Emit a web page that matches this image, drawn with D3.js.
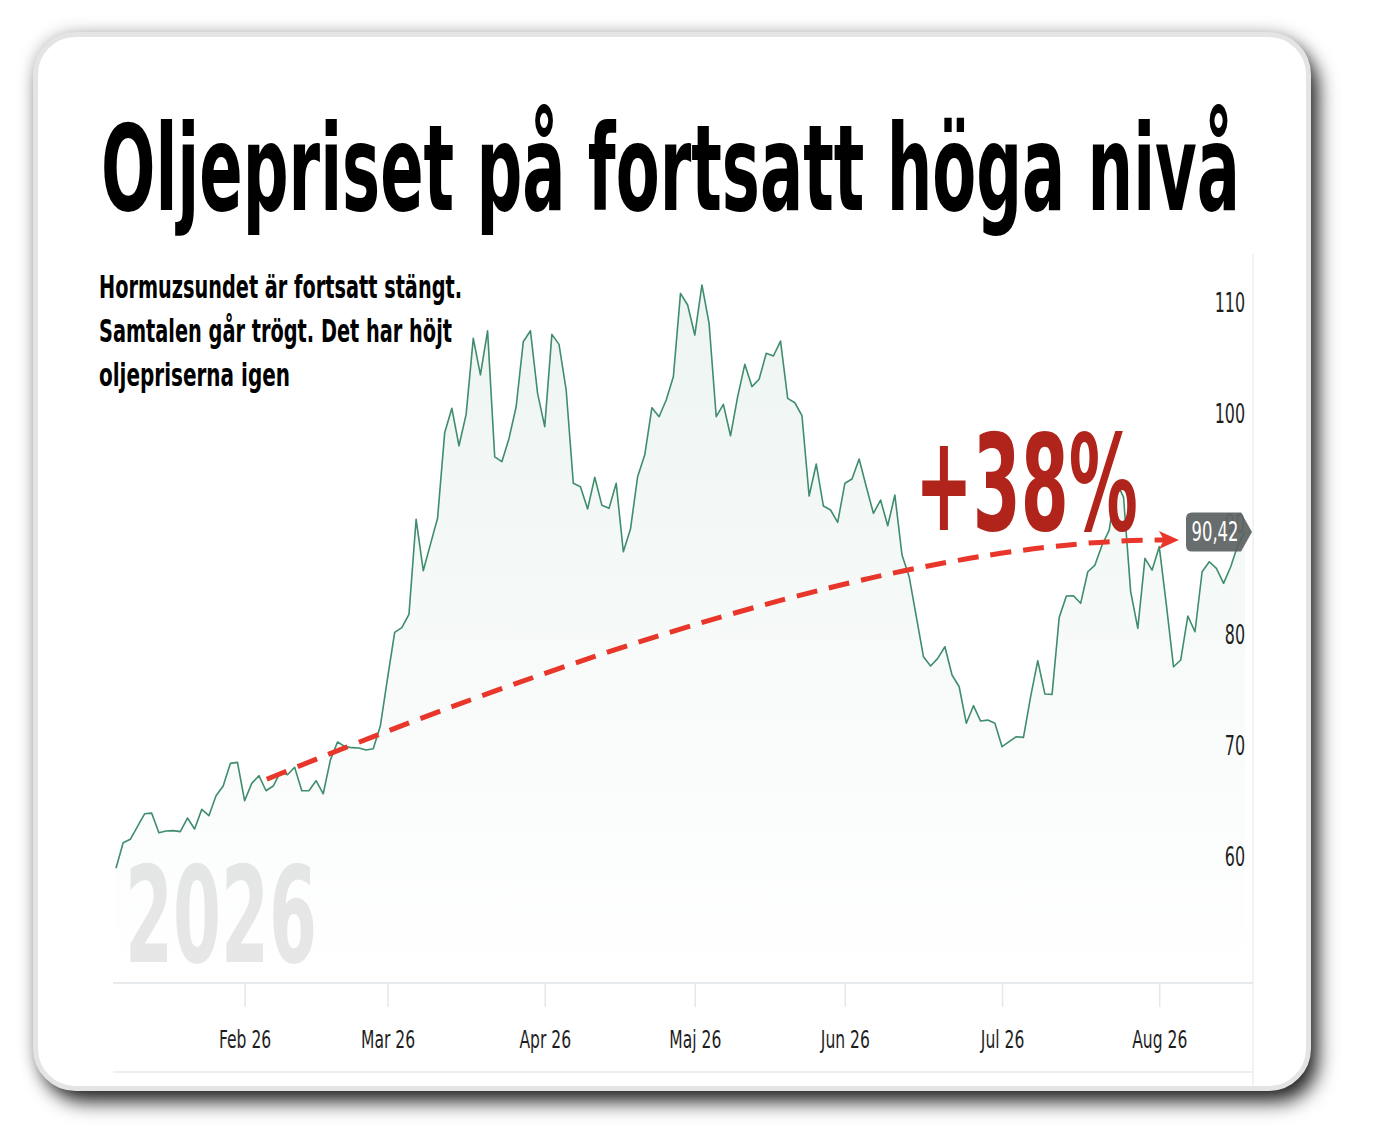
<!DOCTYPE html>
<html>
<head>
<meta charset="utf-8">
<script src="https://cdn.jsdelivr.net/npm/d3@7"></script>
<style>
  html, body { margin: 0; background: #fff; }
  svg { display: block; }
  text { font-family: "Liberation Sans Narrow", "DejaVu Sans Condensed", Roboto, sans-serif; }
</style>
</head>
<body>
<svg id="chart" width="1382" height="1142"></svg>
<script>
// daily closes, one per trading day from startDay
const prices = [
  60.06, 62.37, 62.68, 63.82, 64.98, 65.04, 63.27, 63.43, 63.46, 63.37,
  64.60, 63.61, 65.38, 64.81, 66.61, 67.49, 69.53, 69.62, 66.16, 67.73,
  68.42, 67.06, 67.49, 68.75, 68.51, 69.18, 67.06, 67.06, 67.97, 66.79,
  69.83, 71.46, 71.07, 70.95, 70.92, 70.74, 70.86, 72.93, 77.21, 81.36,
  81.78, 82.98, 91.56, 86.92, 89.30, 91.65, 99.38, 101.58, 98.20, 101.03,
  107.89, 104.60, 108.57, 97.20, 96.76, 98.86, 101.72, 107.59, 108.58, 102.93,
  99.92, 108.25, 107.35, 103.23, 94.81, 94.50, 92.49, 95.35, 92.82, 92.55,
  94.81, 88.63, 90.68, 95.41, 97.38, 101.63, 100.82, 102.33, 104.43, 111.95,
  110.90, 108.19, 112.71, 109.25, 100.82, 101.94, 99.10, 102.64, 105.55, 103.54,
  104.20, 106.54, 106.30, 107.65, 102.47, 102.08, 100.91, 93.66, 96.55, 92.76,
  92.40, 91.29, 94.81, 95.20, 97.00, 94.50, 92.10, 93.30, 90.98, 93.75,
  88.34, 86.38, 82.77, 79.16, 78.32, 79.01, 80.06, 77.51, 76.45, 73.15,
  74.74, 73.35, 73.44, 73.15, 71.04, 71.49, 71.94, 71.88, 75.55, 78.80,
  75.79, 75.76, 82.71, 84.64, 84.66, 83.98, 86.83, 87.43, 89.24, 90.59,
  94.92, 93.57, 85.03, 81.72, 88.04, 86.98, 89.09, 83.82, 78.25, 78.86,
  82.83, 81.41, 86.83, 87.73, 87.13, 85.78, 87.28, 89.24, 90.42
];
const startDay = "2026-01-07";
const holidays = ["2026-04-03", "2026-07-03"];
const monthNames = ["Jan", "Feb", "Mar", "Apr", "Maj", "Jun", "Jul", "Aug", "Sep", "Okt", "Nov", "Dec"];
const yTicks = [60, 70, 80, 90, 100, 110];

const title = "Oljepriset på fortsatt höga nivå";
const subtitle = ["Hormuzsundet är fortsatt stängt.", "Samtalen går trögt. Det har höjt", "oljepriserna igen"];
const changeLabel = "+38%";
const yearLabel = "2026";
// annotation arrow as [point index, price]: start, control, end
const arrowPts = [[21.1, 68.1], [102.7, 89.7], [146.8, 89.7]];

const fmt = d3.utcFormat("%Y-%m-%d");
const start = new Date(startDay);
const days = d3.utcDay.range(start, d3.utcDay.offset(start, 400))
  .filter(d => d.getUTCDay() % 6 !== 0 && !holidays.includes(fmt(d)))
  .slice(0, prices.length)
  .map(fmt);
const data = days.map((d, i) => ({ day: d, v: prices[i] }));

const svg = d3.select("#chart");
const defs = svg.append("defs");

// card + shadows
const halo = defs.append("filter").attr("id", "halo")
  .attr("x", "-10%").attr("y", "-10%").attr("width", "120%").attr("height", "120%");
halo.append("feDropShadow").attr("dx", 0).attr("dy", 0).attr("stdDeviation", 9)
  .attr("flood-color", "#000").attr("flood-opacity", 0.35);
const drop = defs.append("filter").attr("id", "drop")
  .attr("x", "-10%").attr("y", "-10%").attr("width", "125%").attr("height", "125%");
drop.append("feDropShadow").attr("dx", 9).attr("dy", 13).attr("stdDeviation", 10)
  .attr("flood-color", "#000").attr("flood-opacity", 0.85);

const card = { x: 35.5, y: 34.5, w: 1273, h: 1054, r: 40 };
["drop", "halo"].forEach(id =>
  svg.append("rect").attr("x", card.x).attr("y", card.y).attr("width", card.w).attr("height", card.h)
    .attr("rx", card.r).attr("fill", "#fff").attr("filter", `url(#${id})`));
svg.append("rect").attr("x", card.x).attr("y", card.y).attr("width", card.w).attr("height", card.h)
  .attr("rx", card.r).attr("fill", "#fff").attr("stroke", "#e4e4e4").attr("stroke-width", 5);

// scales
const x = d3.scalePoint().domain(days).range([116, 1245]);
const xi = d3.scaleLinear().domain([0, days.length - 1]).range(x.range());
const y = d3.scaleLinear().domain([60, 110]).range([869, 315]);
const plotBottom = 983, plotRight = 1253, plotLeft = 113, plotTop = 254;

// frame lines
svg.append("line").attr("x1", plotRight).attr("x2", plotRight).attr("y1", plotTop).attr("y2", 1086)
  .attr("stroke", "#eceff1").attr("stroke-width", 1.5);
svg.append("line").attr("x1", plotLeft).attr("x2", plotRight).attr("y1", 1072).attr("y2", 1072)
  .attr("stroke", "#eceff1").attr("stroke-width", 2);

// watermark year
svg.append("text").attr("x", 125).attr("y", 962)
  .attr("font-size", 133).attr("font-weight", 700).attr("fill", "#e7e7e7")
  .attr("textLength", 192).attr("lengthAdjust", "spacingAndGlyphs")
  .text(yearLabel);

// area + line
const grad = defs.append("linearGradient").attr("id", "fill")
  .attr("gradientUnits", "userSpaceOnUse").attr("x1", 0).attr("x2", 0).attr("y1", y(112)).attr("y2", plotBottom);
grad.append("stop").attr("offset", 0).attr("stop-color", "#3f8d6d").attr("stop-opacity", 0.09);
grad.append("stop").attr("offset", 1).attr("stop-color", "#3f8d6d").attr("stop-opacity", 0.0);

svg.append("path").datum(data)
  .attr("fill", "url(#fill)")
  .attr("d", d3.area().x(d => x(d.day)).y0(plotBottom).y1(d => y(d.v)));
svg.append("path").datum(data)
  .attr("fill", "none").attr("stroke", "#3f8d6d").attr("stroke-width", 1.6).attr("stroke-linejoin", "round")
  .attr("d", d3.line().x(d => x(d.day)).y(d => y(d.v)));

// condensed look for axis labels
const squeeze = (sel, k) => sel.each(function () {
  const w = this.getComputedTextLength();
  d3.select(this).attr("textLength", w * k).attr("lengthAdjust", "spacingAndGlyphs");
});

// x axis
const monthStarts = days.filter((d, i) => i > 0 && d.slice(5, 7) !== days[i - 1].slice(5, 7));
const xAxis = svg.append("g").attr("transform", `translate(0,${plotBottom})`)
  .call(d3.axisBottom(x).tickValues(monthStarts).tickSize(24).tickPadding(22)
    .tickFormat(d => `${monthNames[+d.slice(5, 7) - 1]} ${d.slice(2, 4)}`));
xAxis.select(".domain").remove();
xAxis.selectAll(".tick line").attr("stroke", "#e3e8eb").attr("stroke-width", 1.5);
xAxis.selectAll(".tick text").attr("font-size", 24).attr("fill", "#1e1e1e")
  .attr("font-family", "'Liberation Sans Narrow', 'DejaVu Sans Condensed', sans-serif")
  .attr("dy", "0.78em")
  .call(squeeze, 0.72);
svg.append("line").attr("x1", plotLeft).attr("x2", plotRight).attr("y1", plotBottom).attr("y2", plotBottom)
  .attr("stroke", "#e6eaec").attr("stroke-width", 2);

// y axis labels (sit a bit above their value)
const yAxis = svg.append("g").attr("transform", "translate(1245,0)")
  .call(d3.axisLeft(y).tickValues(yTicks).tickSize(0).tickPadding(0));
yAxis.select(".domain").remove();
yAxis.selectAll(".tick text").attr("font-size", 26)
  .attr("fill", d => d === 90 ? "#888" : "#1e1e1e")
  .attr("font-family", "'Liberation Sans Narrow', 'DejaVu Sans Condensed', sans-serif")
  .attr("transform", "translate(0,-12)")
  .call(squeeze, 0.68);

// dashed arrow
const [p0, pc, p1] = arrowPts.map(([i, v]) => [xi(i), y(v)]);
const ap = d3.path();
ap.moveTo(p0[0], p0[1]);
ap.quadraticCurveTo(pc[0], pc[1], p1[0], p1[1]);
svg.append("path").attr("d", ap.toString())
  .attr("fill", "none").attr("stroke", "#e8372a").attr("stroke-width", 5).attr("stroke-dasharray", "21 12");
const ang = Math.atan2(p1[1] - pc[1], p1[0] - pc[0]) * 180 / Math.PI;
svg.append("path")
  .attr("transform", `translate(${p1[0]},${p1[1]}) rotate(${ang})`)
  .attr("d", "M-6,-9 L14,0 L-6,9 L-1,0 Z")
  .attr("fill", "#e8372a");

// +38%
svg.append("text").attr("x", 915).attr("y", 530)
  .attr("font-size", 134).attr("font-weight", 700).attr("fill", "#b1241b")
  .attr("textLength", 223).attr("lengthAdjust", "spacingAndGlyphs")
  .text(changeLabel);

// last value badge
const last = data[data.length - 1];
const bx = x(last.day) + 7, by = y(last.v);
svg.append("path")
  .attr("transform", `translate(${bx},${by})`)
  .attr("d", "M-60,-19.5 L-11,-19.5 L0,0 L-11,19.5 L-60,19.5 Q-66,19.5 -66,13.5 L-66,-13.5 Q-66,-19.5 -60,-19.5 Z")
  .attr("fill", "#5b6162").attr("fill-opacity", 0.92);
svg.append("text").attr("x", bx - 37).attr("y", by + 9)
  .attr("text-anchor", "middle").attr("font-size", 26).attr("fill", "#fff")
  .attr("textLength", 47).attr("lengthAdjust", "spacingAndGlyphs")
  .text(d3.format(".2f")(last.v).replace(".", ","));

// title + subtitle
svg.append("text").attr("x", 101).attr("y", 210)
  .attr("font-size", 120).attr("font-weight", 700).attr("fill", "#000")
  .attr("textLength", 1139).attr("lengthAdjust", "spacingAndGlyphs")
  .text(title);

const subWidths = [363, 353, 191];
svg.append("g").selectAll("text").data(subtitle).join("text")
  .attr("x", 99).attr("y", (d, i) => 298 + i * 44)
  .attr("font-size", 32).attr("font-weight", 700).attr("fill", "#000")
  .attr("textLength", (d, i) => subWidths[i]).attr("lengthAdjust", "spacingAndGlyphs")
  .text(d => d);
</script>
</body>
</html>
